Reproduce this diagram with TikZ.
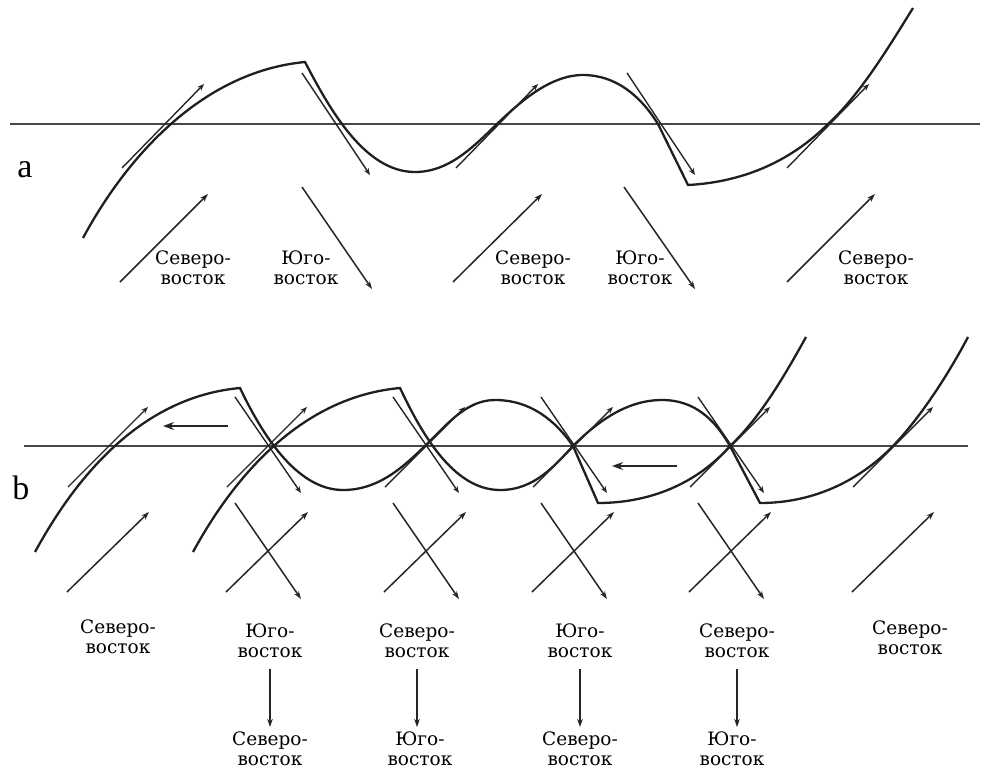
\documentclass[tikz,border=0pt]{standalone}
\usepackage{fontspec}
\setmainfont{DejaVu Serif}
\newfontfamily\panelfont{Liberation Serif}
\usetikzlibrary{arrows.meta}

\begin{document}
\begin{tikzpicture}[
    x=1pt, y=-1pt,
    axis/.style={draw=black!72, line width=2.8pt},
    wave/.style={draw=black!88, line width=2.3pt, line join=miter},
    tangent/.style={draw=black!85, line width=1.4pt, -{Stealth[length=7pt,width=5.5pt]}},
    wind/.style={draw=black!85, line width=1.5pt, -{Stealth[length=8pt,width=5.5pt]}},
    drift/.style={draw=black!85, line width=1.9pt, -{Stealth[length=11pt,width=8pt]}},
    every node/.style={align=center, inner sep=2pt, font=\fontsize{18.5}{19.5}\selectfont},
    panel/.style={font=\panelfont\fontsize{34}{34}\selectfont}
]
\useasboundingbox (0,0) rectangle (985,776);

% --- panel a ---
\node[panel] (pa) at (25,170) {a};
\draw[axis] (10,124) -- (980,124);
\draw[wave] (83,238) .. controls (125,160) and (200,72) .. (305,62)
    .. controls (330,110) and (365,172) .. (415,172)
    .. controls (450,172) and (475,145) .. (497,124)
    .. controls (520,102) and (550,75) .. (583,75)
    .. controls (615,75) and (640,95) .. (658,124) -- (688,185)
    .. controls (745,182) and (792,160) .. (828,124)
    .. controls (860,95) and (890,45) .. (913,8);

% tangents at the crossings
\foreach \xc in {163,497,828}
    \draw[tangent] (\xc-41,168) -- (\xc+41,84);
\foreach \xc in {333,658}
    \draw[tangent] (\xc-31,73) -- (\xc+37,175);

% winds below
\foreach \xa/\xb in {120/208,453/542,787/875}
    \draw[wind] (\xa,282) -- (\xb,194);
\foreach \xa/\xb in {302/372,624/695}
    \draw[wind] (\xa,187) -- (\xb,289);

\node (ane1) at (193,268) {Северо-\\восток};
\node (ase1) at (306,268) {Юго-\\восток};
\node (ane2) at (533,268) {Северо-\\восток};
\node (ase2) at (640,268) {Юго-\\восток};
\node (ane3) at (876,268) {Северо-\\восток};

% --- panel b ---
\node[panel] (pb) at (21,488) {b};
\draw[axis] (24,446) -- (968,446);
\draw[wave] (35,552) .. controls (77,475) and (142,397) .. (240,388)
    .. controls (260,430) and (295,490) .. (343,490)
    .. controls (380,490) and (405,465) .. (425,446)
    .. controls (445,427) and (465,400) .. (495,400)
    .. controls (530,400) and (555,420) .. (573,446) -- (598,503)
    .. controls (655,503) and (700,480) .. (730,446)
    .. controls (760,418) and (785,375) .. (806,337);
\draw[wave] (193,552) .. controls (235,475) and (302,397) .. (400,388)
    .. controls (420,430) and (452,490) .. (500,490)
    .. controls (535,490) and (555,465) .. (573,446)
    .. controls (595,424) and (625,400) .. (662,400)
    .. controls (695,400) and (715,420) .. (730,446) -- (760,503)
    .. controls (817,503) and (862,478) .. (893,446)
    .. controls (920,418) and (948,375) .. (968,337);

\foreach \xc in {108,267,425,573,730,893}
    \draw[tangent] (\xc-40,487) -- (\xc+40,407);
\foreach \xc in {267,425,573,730}
    \draw[tangent] (\xc-32,397) -- (\xc+34,493);

\draw[drift] (228,426) -- (163,426);
\draw[drift] (677,466) -- (612,466);

\foreach \xc in {108,267,425,573,730,893}
    \draw[wind] (\xc-41,592) -- (\xc+41,512);
\foreach \xc in {267,425,573,730}
    \draw[wind] (\xc-32,503) -- (\xc+34,599);

\node (bne1) at (118,637) {Северо-\\восток};
\node (bse1) at (270,641) {Юго-\\восток};
\node (bne2) at (417,641) {Северо-\\восток};
\node (bse2) at (580,641) {Юго-\\восток};
\node (bne3) at (737,641) {Северо-\\восток};
\node (bne4) at (910,638) {Северо-\\восток};

\node (cne1) at (270,749) {Северо-\\восток};
\node (cse1) at (420,749) {Юго-\\восток};
\node (cne2) at (580,749) {Северо-\\восток};
\node (cse2) at (732,749) {Юго-\\восток};

\draw[wind, shorten <=9pt, shorten >=3pt] (bse1) -- (bse1 |- cne1.north);
\draw[wind, shorten <=9pt, shorten >=3pt] (bne2) -- (bne2 |- cse1.north);
\draw[wind, shorten <=9pt, shorten >=3pt] (bse2) -- (cne2);
\draw[wind, shorten <=9pt, shorten >=3pt] (bne3) -- (bne3 |- cse2.north);

\end{tikzpicture}
\end{document}
